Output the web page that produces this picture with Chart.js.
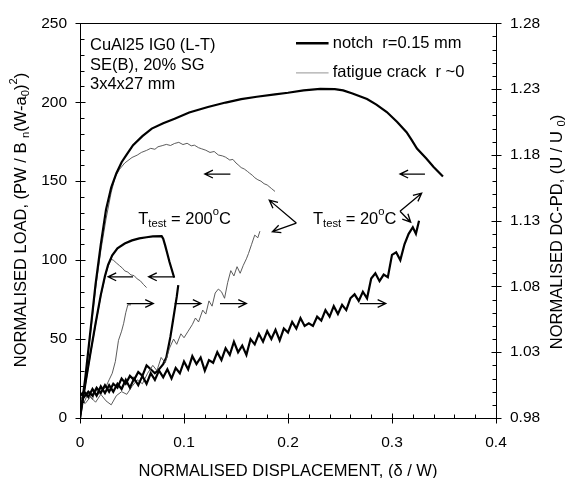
<!DOCTYPE html>
<html>
<head>
<meta charset="utf-8">
<script src="https://cdn.jsdelivr.net/npm/chart.js@4"></script>
<style>
  body { margin: 0; background: #fff; }
  #wrap { width: 567px; height: 478px; }
</style>
</head>
<body>
<div id="wrap"><canvas id="chart"></canvas></div>
<script>
// tick labels
const xTicks = [0, 0.1, 0.2, 0.3, 0.4];
const loadTicks = [0, 50, 100, 150, 200, 250];
const pdTicks = [0.98, 1.03, 1.08, 1.13, 1.18, 1.23, 1.28];

// normalised load, notch r=0.15 mm, T = 20 C
const notch20LoadX = [0, 0.005, 0.01, 0.015, 0.02, 0.025, 0.03, 0.035, 0.04, 0.045,
  0.051, 0.06, 0.069, 0.08, 0.091, 0.105, 0.123, 0.14, 0.155, 0.17,
  0.1875, 0.2, 0.215, 0.231, 0.245, 0.253, 0.262, 0.276, 0.285, 0.295,
  0.305, 0.314, 0.319, 0.324, 0.333, 0.34, 0.349];
const notch20LoadY = [0, 25, 55, 85, 110, 132, 146, 155, 162, 167,
  172.8, 178.5, 183.3, 186.7, 189.6, 193.5, 197, 199.8, 202, 203.5,
  205, 206, 207.5, 208.5, 208.3, 207.5, 205.5, 202, 198.5, 193.8,
  187.5, 181, 176, 170.7, 164.4, 159, 153];

// normalised load, fatigue crack, T = 20 C
const fatigue20LoadX = [0, 0.005, 0.01, 0.015, 0.02, 0.025, 0.03, 0.034, 0.038, 0.043,
  0.05, 0.055, 0.059, 0.064, 0.068, 0.072, 0.075, 0.079, 0.083, 0.087,
  0.091, 0.095, 0.099, 0.103, 0.107, 0.11, 0.114, 0.117, 0.121, 0.125,
  0.129, 0.133, 0.137, 0.14, 0.144, 0.147, 0.15, 0.152, 0.155, 0.158,
  0.161, 0.163, 0.166, 0.168, 0.171, 0.174, 0.177, 0.18, 0.184, 0.1875];
const fatigue20LoadY = [0, 24, 53, 82, 106, 126, 143, 153, 157.5, 161.5,
  165, 166.5, 168.2, 169.5, 170.8, 170.2, 171.8, 172.5, 173.3, 172.6,
  173.9, 174.6, 173.2, 174, 172.4, 172.8, 171.2, 170.5, 169.6, 168.2,
  168.8, 166.6, 166, 165.2, 163.4, 163.8, 161.5, 160.4, 158.6, 157.7,
  156.2, 155.1, 153.6, 152.2, 150.9, 150, 148.4, 147.6, 145.4, 143.5];

// normalised load, notch, T = 200 C
const notch200LoadX = [0, 0.005, 0.01, 0.015, 0.02, 0.024, 0.027, 0.031, 0.036, 0.043,
  0.05, 0.057, 0.064, 0.07, 0.0785, 0.08, 0.082, 0.084, 0.086, 0.088, 0.0905];
const notch200LoadY = [0, 21, 41, 60, 78, 90, 97, 103, 107.5, 110.5,
  112.5, 113.8, 114.5, 115, 115.2, 113.5, 109, 104, 99, 94.5, 89];

// normalised load, fatigue crack, T = 200 C
const fatigue200LoadX = [0, 0.005, 0.01, 0.015, 0.02, 0.024, 0.027, 0.03, 0.032, 0.035,
  0.038, 0.041, 0.043, 0.046, 0.049, 0.052, 0.055, 0.058, 0.061, 0.064];
const fatigue200LoadY = [0, 20, 40, 59, 77, 89, 96, 100.5, 100, 98.2,
  96.5, 94.8, 93.2, 92.4, 90.6, 90.2, 88.1, 86.9, 84.6, 82.6];

// DC-PD (U/U0), notch, T = 20 C
const notch20PdX = [0, 0.004, 0.008, 0.012, 0.016, 0.02, 0.024, 0.028, 0.032, 0.036,
  0.04, 0.044, 0.048, 0.052, 0.056, 0.06, 0.064, 0.068, 0.072, 0.076,
  0.08, 0.084, 0.088, 0.092, 0.096, 0.1, 0.104, 0.108, 0.112, 0.116,
  0.12, 0.124, 0.128, 0.132, 0.136, 0.14, 0.144, 0.148, 0.152, 0.156,
  0.16, 0.164, 0.168, 0.172, 0.176, 0.18, 0.184, 0.188, 0.192, 0.196,
  0.2, 0.204, 0.208, 0.212, 0.216, 0.22, 0.224, 0.228, 0.232, 0.236,
  0.24, 0.244, 0.248, 0.252, 0.256, 0.26, 0.264, 0.268, 0.272, 0.276,
  0.28, 0.284, 0.288, 0.292, 0.296, 0.3, 0.304, 0.308, 0.312, 0.316,
  0.32, 0.323, 0.326];
const notch20PdY = [0.997, 1.000, 0.996, 1.002, 0.997, 1.004, 0.999, 1.005, 1.000, 1.006,
  1.002, 1.009, 1.003, 1.010, 1.005, 1.012, 1.006, 1.014, 1.009, 1.016,
  1.011, 1.017, 1.010, 1.018, 1.014, 1.023, 1.017, 1.027, 1.021, 1.026,
  1.016, 1.024, 1.022, 1.030, 1.024, 1.033, 1.028, 1.038, 1.030, 1.035,
  1.028, 1.040, 1.036, 1.044, 1.038, 1.046, 1.040, 1.047, 1.039, 1.048,
  1.045, 1.053, 1.048, 1.056, 1.050, 1.052, 1.050, 1.057, 1.054, 1.062,
  1.057, 1.065, 1.059, 1.066, 1.062, 1.071, 1.074, 1.069, 1.076, 1.071,
  1.086, 1.090, 1.084, 1.089, 1.087, 1.104, 1.106, 1.100, 1.112, 1.120,
  1.125, 1.120, 1.130];

// DC-PD, fatigue crack, T = 20 C
const fatigue20PdX = [0, 0.005, 0.01, 0.015, 0.02, 0.025, 0.03, 0.035, 0.04, 0.045,
  0.05, 0.055, 0.06, 0.065, 0.07, 0.074, 0.078, 0.082, 0.086, 0.09,
  0.093, 0.097, 0.1, 0.104, 0.108, 0.111, 0.114, 0.118, 0.121, 0.124,
  0.127, 0.13, 0.133, 0.136, 0.139, 0.142, 0.145, 0.148, 0.151, 0.154,
  0.157, 0.16, 0.162, 0.165, 0.168, 0.171, 0.173];
const fatigue20PdY = [0.994, 0.991, 0.996, 0.992, 0.998, 0.993, 0.990, 0.997, 1.000, 0.998,
  1.004, 1.009, 1.006, 1.014, 1.020, 1.016, 1.026, 1.022, 1.033, 1.040,
  1.036, 1.044, 1.041, 1.046, 1.051, 1.056, 1.053, 1.062, 1.059, 1.069,
  1.065, 1.075, 1.078, 1.076, 1.071, 1.083, 1.092, 1.088, 1.095, 1.090,
  1.096, 1.101, 1.105, 1.112, 1.119, 1.117, 1.122];

// DC-PD, notch, T = 200 C
const notch200PdX = [0, 0.004, 0.008, 0.012, 0.016, 0.02, 0.024, 0.028, 0.032, 0.036,
  0.04, 0.044, 0.048, 0.052, 0.056, 0.06, 0.064, 0.068, 0.072, 0.076,
  0.08, 0.083, 0.085, 0.087, 0.089, 0.091, 0.093, 0.0945];
const notch200PdY = [0.999, 0.996, 1.000, 0.997, 1.003, 0.999, 1.005, 1.000, 1.006, 1.003,
  1.010, 1.006, 1.012, 1.009, 1.015, 1.012, 1.020, 1.017, 1.014, 1.017,
  1.021, 1.026, 1.034, 1.042, 1.052, 1.062, 1.072, 1.081];

// DC-PD, fatigue crack, T = 200 C
const fatigue200PdX = [0, 0.004, 0.008, 0.012, 0.015, 0.018, 0.021, 0.025, 0.028, 0.031,
  0.034, 0.037, 0.04, 0.042, 0.044, 0.046, 0.049];
const fatigue200PdY = [0.997, 0.992, 0.999, 0.994, 1.002, 0.998, 1.000, 1.004, 1.009, 1.014,
  1.023, 1.039, 1.046, 1.052, 1.060, 1.066, 1.066];

const FONT = '"Liberation Sans", Arial, Helvetica, sans-serif';
const TXT = 16.5;
const THICK = { borderColor: '#000', borderWidth: 2.2 };
const THIN = { borderColor: '#4a4a4a', borderWidth: 0.9 };

function pts(xs, ys) {
  return xs.map((x, i) => ({ x: x, y: ys[i] }));
}

function series(xs, ys, style, axis) {
  return Object.assign({
    data: pts(xs, ys),
    yAxisID: axis,
    showLine: true,
    pointRadius: 0,
    tension: 0,
    fill: false
  }, style);
}

// text with sub/superscripts: parts = [[text, '', 'sub' or 'sup'], ...]
function richWidth(ctx, parts, size) {
  let w = 0;
  parts.forEach(p => {
    ctx.font = (p[1] ? size * 0.68 : size) + 'px ' + FONT;
    w += ctx.measureText(p[0]).width;
  });
  return w;
}

function drawRich(ctx, parts, x, y, size, align) {
  let cx = align === 'center' ? x - richWidth(ctx, parts, size) / 2 : x;
  ctx.textBaseline = 'middle';
  ctx.textAlign = 'left';
  parts.forEach(p => {
    const small = p[1] !== '';
    ctx.font = (small ? size * 0.68 : size) + 'px ' + FONT;
    const dy = p[1] === 'sub' ? size * 0.3 : p[1] === 'sup' ? -size * 0.42 : 0;
    ctx.fillText(p[0], cx, y + dy);
    cx += ctx.measureText(p[0]).width;
  });
}

function arrow(ctx, x1, y1, x2, y2) {
  const ang = Math.atan2(y2 - y1, x2 - x1);
  const len = 9, spread = 0.45;
  ctx.beginPath();
  ctx.moveTo(x1, y1);
  ctx.lineTo(x2, y2);
  ctx.moveTo(x2 - len * Math.cos(ang - spread), y2 - len * Math.sin(ang - spread));
  ctx.lineTo(x2, y2);
  ctx.lineTo(x2 - len * Math.cos(ang + spread), y2 - len * Math.sin(ang + spread));
  ctx.stroke();
}

// frame, ticks, titles, legend and annotations
const decor = {
  id: 'decor',
  afterDraw(chart) {
    const ctx = chart.ctx;
    const a = chart.chartArea;
    const sx = chart.scales.x, sy = chart.scales.y, sy2 = chart.scales.y2;
    const px = v => sx.getPixelForValue(v);
    const py = v => sy.getPixelForValue(v);
    const L = Math.round(a.left) + 0.5, R = Math.round(a.right) + 0.5;
    const T = Math.round(a.top) + 0.5, B = Math.round(a.bottom) + 0.5;

    ctx.save();
    ctx.strokeStyle = '#000';
    ctx.fillStyle = '#000';
    ctx.lineWidth = 1;
    ctx.strokeRect(L, T, R - L, B - T);

    ctx.beginPath();
    for (let k = 0; k <= 20; k++) {
      const p = Math.round(px(k * 0.02)) + 0.5;
      if (k % 5 === 0) { ctx.moveTo(p, B - 5); ctx.lineTo(p, B + 5); }
      else { ctx.moveTo(p, B - 4); ctx.lineTo(p, B); }
    }
    for (let k = 0; k <= 25; k++) {
      const p = Math.round(py(k * 10)) + 0.5;
      if (k % 5 === 0) { ctx.moveTo(L - 5, p); ctx.lineTo(L + 5, p); }
      else { ctx.moveTo(L, p); ctx.lineTo(L + 4, p); }
    }
    for (let k = 0; k <= 30; k++) {
      const p = Math.round(sy2.getPixelForValue(0.98 + k * 0.01)) + 0.5;
      if (k % 5 === 0) { ctx.moveTo(R - 5, p); ctx.lineTo(R + 5, p); }
      else { ctx.moveTo(R - 4, p); ctx.lineTo(R, p); }
    }
    ctx.stroke();

    // axis titles
    drawRich(ctx, [['NORMALISED DISPLACEMENT, (\u03b4 / W)', '']], (a.left + a.right) / 2, 471, TXT, 'center');
    ctx.save();
    ctx.translate(21, 220);
    ctx.rotate(-Math.PI / 2);
    drawRich(ctx, [['NORMALISED LOAD, (PW / B ', ''], ['n', 'sub'], ['(W-a', ''], ['0', 'sub'], [')', ''], ['2', 'sup'], [')', '']], 0, 0, TXT, 'center');
    ctx.restore();
    ctx.save();
    ctx.translate(557, 232);
    ctx.rotate(-Math.PI / 2);
    drawRich(ctx, [['NORMALISED DC-PD, (U / U ', ''], ['0', 'sub'], [')', '']], 0, 0, TXT, 'center');
    ctx.restore();

    // specimen text
    drawRich(ctx, [['CuAl25 IG0 (L-T)', '']], px(0.0096), py(236), TXT, 'left');
    drawRich(ctx, [['SE(B), 20% SG', '']], px(0.0096), py(223.6), TXT, 'left');
    drawRich(ctx, [['3x4x27 mm', '']], px(0.0096), py(211), TXT, 'left');

    // legend
    ctx.lineWidth = 2.5;
    ctx.beginPath();
    ctx.moveTo(px(0.2077), py(237.4));
    ctx.lineTo(px(0.239), py(237.4));
    ctx.stroke();
    ctx.strokeStyle = '#aaa';
    ctx.lineWidth = 1.2;
    ctx.beginPath();
    ctx.moveTo(px(0.2077), py(218.6));
    ctx.lineTo(px(0.239), py(218.6));
    ctx.stroke();
    drawRich(ctx, [['notch  r=0.15 mm', '']], px(0.243), py(237.4), TXT, 'left');
    drawRich(ctx, [['fatigue crack  r ~0', '']], px(0.243), py(218.6), TXT, 'left');

    // temperature labels
    drawRich(ctx, [['T', ''], ['test', 'sub'], [' = 200', ''], ['o', 'sup'], ['C', '']], px(0.056), py(126), 16.5, 'left');
    drawRich(ctx, [['T', ''], ['test', 'sub'], [' = 20', ''], ['o', 'sup'], ['C', '']], px(0.224), py(126), 16.5, 'left');

    // arrows pointing to the axis each curve belongs to
    ctx.strokeStyle = '#000';
    ctx.lineWidth = 1.3;
    [[0.1446, 0.12, 154.5], [0.3317, 0.3077, 154.5], [0.051, 0.027, 89.4], [0.0913, 0.066, 89.4],
     [0.045, 0.0705, 72.5], [0.091, 0.1163, 72.5], [0.1346, 0.16, 72.5], [0.269, 0.294, 72.5]]
      .forEach(h => arrow(ctx, px(h[0]), py(h[2]), px(h[1]), py(h[2])));
    [[0.208, 123.5, 0.182, 138], [0.208, 123.5, 0.185, 118],
     [0.3077, 131, 0.3285, 142.4], [0.3077, 131, 0.318, 124]]
      .forEach(v => arrow(ctx, px(v[0]), py(v[1]), px(v[2]), py(v[3])));
    ctx.restore();
  }
};

Chart.defaults.font.family = FONT;
Chart.defaults.font.size = 15.5;
Chart.defaults.color = '#000';

new Chart(document.getElementById('chart'), {
  type: 'scatter',
  data: {
    datasets: [
      series(notch20LoadX, notch20LoadY, THICK, 'y'),
      series(fatigue20LoadX, fatigue20LoadY, THIN, 'y'),
      series(notch200LoadX, notch200LoadY, THICK, 'y'),
      series(fatigue200LoadX, fatigue200LoadY, THIN, 'y'),
      series(notch20PdX, notch20PdY, THICK, 'y2'),
      series(fatigue20PdX, fatigue20PdY, THIN, 'y2'),
      series(notch200PdX, notch200PdY, THICK, 'y2'),
      series(fatigue200PdX, fatigue200PdY, THIN, 'y2')
    ]
  },
  options: {
    responsive: true,
    maintainAspectRatio: false,
    animation: false,
    layout: { padding: { top: 21, left: 0, right: 0, bottom: 0 } },
    plugins: {
      legend: { display: false },
      tooltip: { enabled: false }
    },
    scales: {
      x: {
        type: 'linear',
        position: 'bottom',
        min: 0,
        max: 0.4,
        afterFit: s => { s.height = 60; },
        afterBuildTicks: s => { s.ticks = xTicks.map(v => ({ value: v })); },
        ticks: { padding: 15, maxRotation: 0, callback: v => String(v) },
        grid: { display: false, drawTicks: false },
        border: { display: false }
      },
      y: {
        type: 'linear',
        position: 'left',
        min: 0,
        max: 250,
        afterFit: s => { s.width = 80; },
        afterBuildTicks: s => { s.ticks = loadTicks.map(v => ({ value: v })); },
        ticks: { padding: 13, callback: v => String(v) },
        grid: { display: false, drawTicks: false },
        border: { display: false }
      },
      y2: {
        type: 'linear',
        position: 'right',
        min: 0.98,
        max: 1.28,
        afterFit: s => { s.width = 71; },
        afterBuildTicks: s => { s.ticks = pdTicks.map(v => ({ value: v })); },
        ticks: { padding: 14, callback: v => v.toFixed(2) },
        grid: { display: false, drawTicks: false },
        border: { display: false }
      }
    }
  },
  plugins: [decor]
});
</script>
</body>
</html>
